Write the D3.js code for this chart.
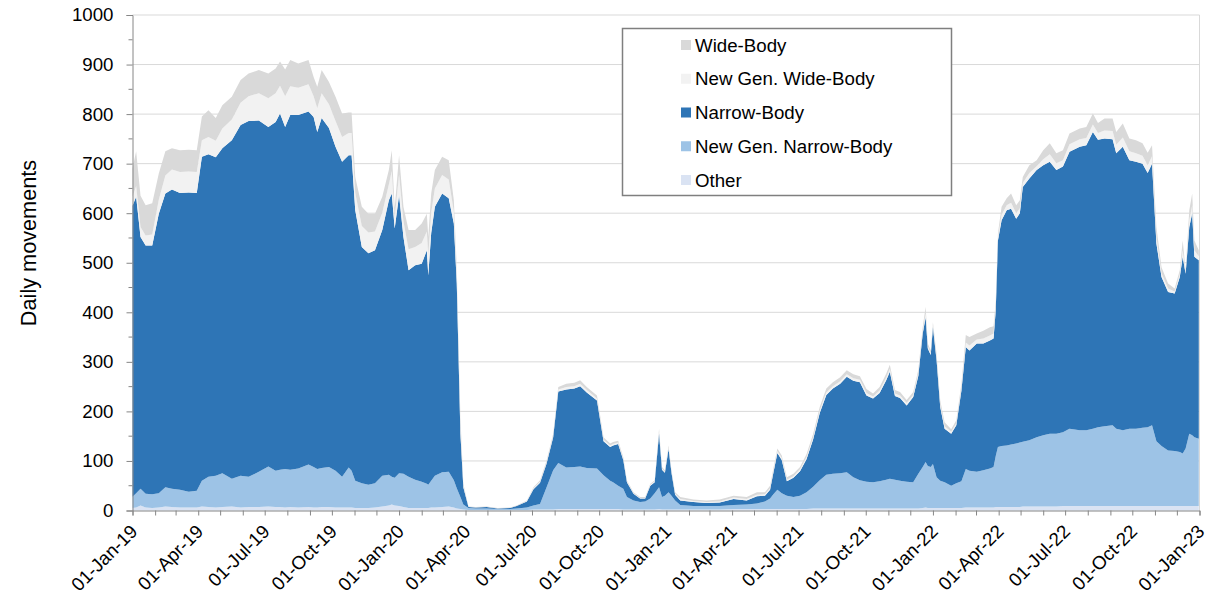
<!DOCTYPE html>
<html><head><meta charset="utf-8">
<script src="https://cdn.jsdelivr.net/npm/d3@7"></script>
<style>body{margin:0;background:#fff;} svg{display:block;font-family:"Liberation Sans",Arial,sans-serif;}</style>
</head><body><svg id="c" width="1210" height="597"></svg>
<script>
const dates = [
"2019-01-01","2019-01-06","2019-01-12","2019-01-19","2019-01-28","2019-02-06","2019-02-15","2019-02-24","2019-03-07","2019-03-19",
"2019-03-30","2019-04-06","2019-04-15","2019-04-25","2019-05-04","2019-05-17","2019-05-29","2019-06-09","2019-06-23","2019-07-06",
"2019-07-16","2019-07-22","2019-07-29","2019-08-05","2019-08-16","2019-08-30","2019-09-06","2019-09-11","2019-09-17","2019-09-27",
"2019-10-06","2019-10-15","2019-10-24","2019-10-28","2019-11-02","2019-11-11","2019-11-20","2019-11-29","2019-12-09","2019-12-18",
"2019-12-22","2019-12-26",
"2020-01-01","2020-01-07","2020-01-14","2020-01-23","2020-02-01","2020-02-08","2020-02-10","2020-02-14","2020-02-19","2020-02-29",
"2020-03-09","2020-03-16","2020-03-20","2020-03-25","2020-03-29","2020-04-05","2020-04-15","2020-04-30","2020-05-15","2020-06-01",
"2020-06-10","2020-06-24","2020-07-03","2020-07-12","2020-07-21","2020-07-30","2020-08-06","2020-08-17","2020-08-28","2020-09-05",
"2020-09-14","2020-09-28","2020-10-07","2020-10-16","2020-10-20","2020-10-27","2020-11-03","2020-11-08","2020-11-17","2020-11-26",
"2020-12-03","2020-12-10","2020-12-16","2020-12-22","2020-12-26","2020-12-30",
"2021-01-04","2021-01-08","2021-01-13","2021-01-20","2021-02-07","2021-02-25","2021-03-15","2021-04-03","2021-04-21","2021-05-05",
"2021-05-16","2021-05-23","2021-05-27","2021-06-02","2021-06-08","2021-06-15","2021-06-24","2021-07-03","2021-07-12","2021-07-21",
"2021-07-30","2021-08-08","2021-08-17","2021-08-27","2021-09-05","2021-09-14","2021-09-23","2021-10-02","2021-10-11","2021-10-20",
"2021-10-29","2021-11-03","2021-11-10","2021-11-17","2021-11-26","2021-12-05","2021-12-12","2021-12-18","2021-12-22","2021-12-25",
"2021-12-29",
"2022-01-01","2022-01-06","2022-01-11","2022-01-17","2022-01-26","2022-02-02","2022-02-09","2022-02-15","2022-02-20","2022-03-02",
"2022-03-11","2022-03-20","2022-03-25","2022-03-28","2022-03-31","2022-04-05","2022-04-12","2022-04-18","2022-04-25","2022-04-30",
"2022-05-04","2022-05-13","2022-05-23","2022-06-01","2022-06-10","2022-06-19","2022-06-28","2022-07-07","2022-07-21","2022-07-30",
"2022-08-08","2022-08-15","2022-08-24","2022-09-04","2022-09-09","2022-09-18","2022-09-27","2022-10-06","2022-10-15","2022-10-22",
"2022-10-28","2022-11-03","2022-11-10","2022-11-19","2022-11-28","2022-12-05","2022-12-09","2022-12-13","2022-12-18","2022-12-22",
"2022-12-25","2022-12-31"
];
const other = [
5,6,10,6,5,6,8,7,6,6, 6,8,7,6,7,8,6,7,7,8, 7,7,6,7,6,7,6,6,7,7, 6,6,6,6,5,5,5,6,8,10, 12,10,
9,7,5,5,5,5,5,6,6,7, 8,6,4,3,2,1,1,1,1,1, 1,1,2,2,2,2,3,3,3,3, 3,3,3,3,3,3,2,2,2,2, 2,2,2,3,2,2,
2,2,2,2,2,2,2,3,3,3, 3,3,3,3,3,3,3,3,3,4, 4,4,4,4,4,4,4,4,4,4, 4,4,4,4,4,4,4,5,6,5, 5,
5,5,5,5,5,5,5,6,6,6, 6,6,6,7,7,7,7,7,7,7, 8,8,8,8,8,8,9,9,9,9, 9,9,9,9,9,9,9,9,9,9, 9,9,9,9,9,9,9,9,9,9, 9,9
];
const newGenNarrowBody = [
23,29,34,28,28,29,39,37,36,32, 34,52,61,64,68,56,64,61,71,81, 73,75,78,75,79,86,82,78,79,81, 74,62,81,74,55,50,47,49,62,62, 56,56,
66,67,63,57,53,49,47,54,64,70, 70,55,41,24,10,4,3,3,2,2, 3,5,8,11,45,79,93,84,85,86, 83,82,68,57,54,47,42,25,18,15, 16,22,33,44,25,28,
35,28,18,9,7,7,7,8,9,11, 15,21,29,39,32,27,24,27,34,44, 57,68,70,71,73,63,57,54,53,55, 58,60,58,56,54,53,70,83,92,85, 83,
89,62,55,52,45,50,54,78,74,72, 75,79,82,103,121,123,124,126,128,130, 131,134,140,144,147,147,149,156,153,153, 156,159,161,163,156,153,156,156,158,159, 163,131,121,112,111,109,106,116,146,143, 139,136
];
const narrowBody = [
587,598,508,501,502,564,593,604,599,604, 601,654,651,643,656,683,708,718,709,685, 704,719,690,716,713,712,706,680,706,684, 654,636,630,637,546,477,467,470,496,554, 572,503,
561,478,417,433,440,471,423,500,543,563, 552,518,413,128,35,2,2,3,1,2, 5,12,33,43,48,67,144,157,158,162, 152,137,69,68,74,84,58,30,14,7, 6,26,22,108,55,46,
87,46,12,9,8,6,7,12,8,15, 12,18,40,74,67,29,39,49,67,96, 136,161,172,181,193,195,198,174,169,178, 201,216,169,167,154,172,198,269,292,237, 226,
276,236,149,108,105,117,183,246,243,259, 256,258,259,294,417,456,475,476,454,463, 514,528,539,545,549,532,536,559,572,575, 599,580,581,577,556,572,542,539,533,513, 528,399,341,320,318,353,397,353,417,448, 364,360
];
const newGenWideBody = [
18,22,20,20,22,28,36,40,42,42, 42,33,35,33,40,42,45,50,55,58, 58,56,62,58,55,55,42,48,50,48, 52,50,45,45,35,42,42,38,35,32, 45,21,
42,32,42,37,42,38,40,41,37,37, 38,24,17,15,3,0,0,0,0,0, 0,1,2,2,2,3,4,5,5,5, 5,4,3,3,3,3,2,2,1,1, 1,2,2,4,3,2,
3,2,2,3,2,2,2,3,3,3, 3,3,4,4,4,3,3,4,4,4, 5,5,5,5,5,5,5,5,4,5, 5,6,5,5,5,4,5,5,8,4, 4,
4,5,5,5,4,4,5,9,10,8, 10,10,10,8,6,11,10,12,11,10, 8,11,8,12,15,14,13,15,15,15, 15,14,16,17,17,19,18,17,16,16, 15,13,8,7,4,6,13,3,14,16, 13,8
];
const wideBody = [
57,70,63,61,63,53,49,43,44,44, 44,48,54,46,47,46,46,46,47,50, 50,49,54,53,49,49,39,43,47,45, 49,47,41,41,32,39,38,36,32,29, 42,20,
39,29,39,34,39,36,37,39,37,37, 39,23,16,18,4,1,1,1,1,1, 1,1,2,3,4,4,5,7,7,7, 6,6,5,4,4,4,4,2,2,2, 2,2,2,6,3,3,
4,3,3,4,3,3,4,4,4,5, 4,5,5,5,5,5,5,5,6,7, 7,8,8,8,8,8,7,8,6,7, 8,8,7,7,6,6,7,8,13,6, 5,
6,8,8,8,5,6,9,15,17,12, 16,17,15,12,8,16,14,19,16,16, 12,16,12,18,22,20,20,22,22,22, 22,20,24,25,26,28,26,26,25,25, 22,20,12,10,6,8,20,4,20,24, 20,12
];
const seriesKeys = ["other","newGenNarrowBody","narrowBody","newGenWideBody","wideBody"];
const seriesNames = ["Other","New Gen. Narrow-Body","Narrow-Body","New Gen. Wide-Body","Wide-Body"];
const seriesColors = ["#dae3f3","#9dc3e6","#2e75b6","#f2f2f2","#d9d9d9"];
const yTicks = [0,100,200,300,400,500,600,700,800,900,1000];
const xLabelDates = ["2019-01-01","2019-04-01","2019-07-01","2019-10-01","2020-01-01","2020-04-01","2020-07-01","2020-10-01",
  "2021-01-01","2021-04-01","2021-07-01","2021-10-01","2022-01-01","2022-04-01","2022-07-01","2022-10-01","2023-01-01"];
const xTickLabels = ["01-Jan-19","01-Apr-19","01-Jul-19","01-Oct-19","01-Jan-20","01-Apr-20","01-Jul-20","01-Oct-20",
  "01-Jan-21","01-Apr-21","01-Jul-21","01-Oct-21","01-Jan-22","01-Apr-22","01-Jul-22","01-Oct-22","01-Jan-23"];

const parse = d3.utcParse("%Y-%m-%d");
const svg = d3.select("#c");
const X0 = 132.5, X1 = 1199.5, Y0 = 510.5, Y1 = 15;
const x = d3.scaleUtc().domain([parse("2019-01-01"), parse("2023-01-01")]).range([X0, X1]);
const y = d3.scaleLinear().domain([0, 1000]).range([Y0, Y1]);

const cols = {other, newGenNarrowBody, narrowBody, newGenWideBody, wideBody};
const data = dates.map((d, i) => {
  const r = {date: parse(d)};
  seriesKeys.forEach(k => r[k] = cols[k][i]);
  return r;
});

// gridlines
svg.append("g").selectAll("line").data(yTicks.filter(v => v > 0)).join("line")
  .attr("x1", X0).attr("x2", X1).attr("y1", d => y(d)).attr("y2", d => y(d))
  .attr("stroke", "#d9d9d9").attr("stroke-width", 1);
svg.append("line").attr("x1", X1).attr("x2", X1).attr("y1", Y1).attr("y2", Y0)
  .attr("stroke", "#d9d9d9").attr("stroke-width", 1);

// stacked areas
const stacked = d3.stack().keys(seriesKeys)(data);
const area = d3.area().x(d => x(d.data.date)).y0(d => y(d[0])).y1(d => y(d[1]));
svg.append("g").selectAll("path").data(stacked).join("path")
  .attr("d", area).attr("fill", (d, i) => seriesColors[i]);

// y axis
const yAxis = svg.append("g").attr("transform", `translate(${X0},0)`)
  .call(d3.axisLeft(y).tickValues(yTicks).tickSize(6).tickPadding(13).tickFormat(d3.format("d")));
yAxis.select(".domain").attr("stroke", "#868686");
yAxis.selectAll(".tick line").attr("stroke", "#868686");
yAxis.selectAll(".tick text").attr("font-size", "18.7px").attr("fill", "#000")
  .attr("font-family", "Liberation Sans, Arial, sans-serif");
const minor = d3.range(50, 1000, 100);
svg.append("g").selectAll("line").data(minor).join("line")
  .attr("x1", X0 - 4).attr("x2", X0).attr("y1", d => y(d)).attr("y2", d => y(d))
  .attr("stroke", "#868686");

// x axis
const xAxis = svg.append("g").attr("transform", `translate(0,${Y0})`)
  .call(d3.axisBottom(x).ticks(d3.utcMonth.every(1)).tickSize(5).tickFormat(""));
xAxis.select(".domain").attr("stroke", "#868686");
xAxis.selectAll(".tick line").attr("stroke", "#868686");
svg.append("g").selectAll("text").data(xLabelDates).join("text")
  .attr("transform", d => `translate(${x(parse(d)) + 1.5},${528}) rotate(-45)`)
  .attr("text-anchor", "end").attr("dy", "0.35em")
  .attr("font-size", "18.7px").attr("fill", "#000")
  .text((d, i) => xTickLabels[i]);

// y title
svg.append("text").attr("transform", "translate(28,243) rotate(-90)")
  .attr("text-anchor", "middle").attr("dy", "0.35em")
  .attr("font-size", "21.7px").attr("fill", "#000").text("Daily movements");

// legend
const lg = svg.append("g");
lg.append("rect").attr("x", 622.5).attr("y", 28.5).attr("width", 329).attr("height", 167)
  .attr("fill", "#fff").attr("stroke", "#7f7f7f").attr("stroke-width", 1.5);
const legendOrder = [4, 3, 2, 1, 0];
legendOrder.forEach((si, j) => {
  const cy = 45 + j * 33.75;
  lg.append("rect").attr("x", 681).attr("y", cy - 5).attr("width", 10).attr("height", 10)
    .attr("fill", seriesColors[si]);
  lg.append("text").attr("x", 695).attr("y", cy).attr("dy", "0.35em")
    .attr("font-size", "18.7px").attr("fill", "#000").text(seriesNames[si]);
});
</script></body></html>
